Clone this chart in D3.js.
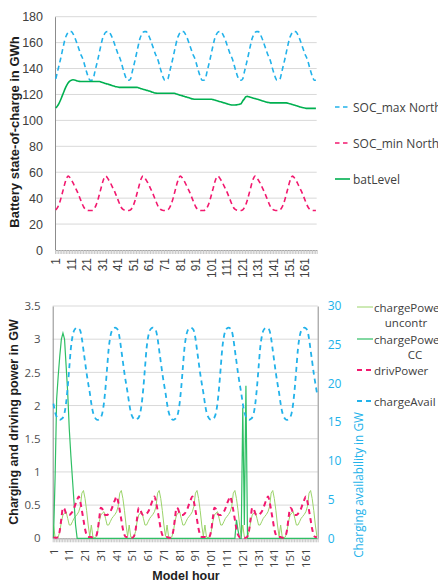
<!DOCTYPE html>
<html>
<head>
<meta charset="utf-8">
<script src="https://cdn.jsdelivr.net/npm/d3@7"></script>
<style>
  body { margin: 0; background: #fff; }
  svg { display: block; }
</style>
</head>
<body>
<svg id="chart" width="438" height="582"></svg>
<script>
// Model hours (one week) and tick labels
const hours = d3.range(1, 169);
const hourLabels = [1, 11, 21, 31, 41, 51, 61, 71, 81, 91, 101, 111, 121, 131, 141, 151, 161];
const socTicks = [0, 20, 40, 60, 80, 100, 120, 140, 160, 180];
const powerTicks = [0, 0.5, 1, 1.5, 2, 2.5, 3, 3.5];
const availTicks = [0, 5, 10, 15, 20, 25, 30];

// Battery state-of-charge in GWh (one row per day)
const socMax = [
  132,137,142,147,152.5,158,163,166,168,168.5,168.5,167,164.5,161.5,158,154.5,151,148.5,145,140.5,136.5,133,131,131,
  132,137,142,147,152.5,158,163,166,168,168.5,168.5,167,164.5,161.5,158,154.5,151,148.5,145,140.5,136.5,133,131,131,
  132,137,142,147,152.5,158,163,166,168,168.5,168.5,167,164.5,161.5,158,154.5,151,148.5,145,140.5,136.5,133,131,131,
  132,137,142,147,152.5,158,163,166,168,168.5,168.5,167,164.5,161.5,158,154.5,151,148.5,145,140.5,136.5,133,131,131,
  132,137,142,147,152.5,158,163,166,168,168.5,168.5,167,164.5,161.5,158,154.5,151,148.5,145,140.5,136.5,133,131,131,
  132,137,142,147,152.5,158,163,166,168,168.5,168.5,167,164.5,161.5,158,154.5,151,148.5,145,140.5,136.5,133,131,131,
  132,137,142,147,152.5,158,163,166,168,168.5,168.5,167,164.5,161.5,158,154.5,151,148.5,145,140.5,136.5,133,131,131
];
const socMin = [
  31,32.5,35,38.5,43,47.5,52,55.5,57,56,54,52,49.5,47,44.5,41.5,38.5,35.5,33,31.5,30.8,30.5,30.5,30.5,
  31,32.5,35,38.5,43,47.5,52,55.5,57,56,54,52,49.5,47,44.5,41.5,38.5,35.5,33,31.5,30.8,30.5,30.5,30.5,
  31,32.5,35,38.5,43,47.5,52,55.5,57,56,54,52,49.5,47,44.5,41.5,38.5,35.5,33,31.5,30.8,30.5,30.5,30.5,
  31,32.5,35,38.5,43,47.5,52,55.5,57,56,54,52,49.5,47,44.5,41.5,38.5,35.5,33,31.5,30.8,30.5,30.5,30.5,
  31,32.5,35,38.5,43,47.5,52,55.5,57,56,54,52,49.5,47,44.5,41.5,38.5,35.5,33,31.5,30.8,30.5,30.5,30.5,
  31,32.5,35,38.5,43,47.5,52,55.5,57,56,54,52,49.5,47,44.5,41.5,38.5,35.5,33,31.5,30.8,30.5,30.5,30.5,
  31,32.5,35,38.5,43,47.5,52,55.5,57,56,54,52,49.5,47,44.5,41.5,38.5,35.5,33,31.5,30.8,30.5,30.5,30.5
];
const batLevel = [
  109.5,111,113,115.5,118.5,121.5,124.5,127,129,130.3,131,131.3,131.2,130.8,130.4,130.1,130,130,130,130,130,130,130,130,
  130,130,130,130,130,129.6,129.2,128.8,128.4,128.1,127.8,127.4,127,126.6,126.2,125.9,125.7,125.5,125.5,125.5,125.5,125.5,125.5,125.5,
  125.5,125.5,125.5,125.5,125.5,125.2,124.8,124.4,124.1,123.7,123.3,123,122.6,122.2,121.8,121.4,121.1,120.9,120.9,120.9,120.9,120.9,120.9,120.9,
  120.9,120.9,120.9,120.9,120.9,120.6,120.2,119.8,119.4,119.1,118.7,118.3,118,117.6,117.2,116.8,116.5,116.3,116.3,116.3,116.3,116.3,116.3,116.3,
  116.3,116.3,116.3,116.3,116.3,116,115.7,115.3,115,114.6,114.3,113.9,113.5,113.2,112.8,112.4,112.1,111.9,111.9,111.9,112,112.2,112.5,113,
  115,116.5,118.3,118.5,118.2,117.8,117.5,117.1,116.8,116.5,116.1,115.7,115.3,114.9,114.6,114.2,113.9,113.7,113.5,113.5,113.5,113.5,113.5,113.5,
  113.5,113.5,113.5,113.5,113.5,113.2,112.9,112.6,112.2,111.8,111.5,111.1,110.7,110.3,110,109.7,109.5,109.3,109.3,109.3,109.3,109.3,109.3,109.3
];

// Charging and driving power in GW
const chargePowerUncontr = [
  0.2,0.02,0.01,0.02,0.1,0.25,0.35,0.38,0.4,0.3,0.2,0.2,0.25,0.3,0.33,0.36,0.4,0.48,0.68,0.72,0.6,0.42,0.2,0.03,
  0.2,0.02,0.01,0.02,0.1,0.25,0.35,0.38,0.4,0.3,0.2,0.2,0.25,0.3,0.33,0.36,0.4,0.48,0.68,0.72,0.6,0.42,0.2,0.03,
  0.2,0.02,0.01,0.02,0.1,0.25,0.35,0.38,0.4,0.3,0.2,0.2,0.25,0.3,0.33,0.36,0.4,0.48,0.68,0.72,0.6,0.42,0.2,0.03,
  0.2,0.02,0.01,0.02,0.1,0.25,0.35,0.38,0.4,0.3,0.2,0.2,0.25,0.3,0.33,0.36,0.4,0.48,0.68,0.72,0.6,0.42,0.2,0.03,
  0.2,0.02,0.01,0.02,0.1,0.25,0.35,0.38,0.4,0.3,0.2,0.2,0.25,0.3,0.33,0.36,0.4,0.48,0.68,0.72,0.6,0.42,0.2,0.03,
  0.2,0.02,0.01,0.02,0.1,0.25,0.35,0.38,0.4,0.3,0.2,0.2,0.25,0.3,0.33,0.36,0.4,0.48,0.68,0.72,0.6,0.42,0.2,0.03,
  0.2,0.02,0.01,0.02,0.1,0.25,0.35,0.38,0.4,0.3,0.2,0.2,0.25,0.3,0.33,0.36,0.4,0.48,0.68,0.72,0.6,0.42,0.2,0.03
];
const chargePowerCC = [
  0,0.9,2.1,2.45,2.75,3.0,3.09,3.0,2.6,2.2,1.65,1.25,0.9,0.55,0.2,0,0,0,0,0,0,0,0,0,
  0,0,0,0,0,0,0,0,0,0,0,0,0,0,0,0,0,0,0,0,0,0,0,0,
  0,0,0,0,0,0,0,0,0,0,0,0,0,0,0,0,0,0,0,0,0,0,0,0,
  0,0,0,0,0,0,0,0,0,0,0,0,0,0,0,0,0,0,0,0,0,0,0,0,
  0,0,0,0,0,0,0,0,0,0,0,0,0,0,0,0,0,0,0,0,0.28,0.12,0,0,
  1.97,0.2,2.3,0,0,0,0,0,0,0,0,0,0,0,0,0,0,0,0,0,0,0,0,0,
  0,0,0,0,0,0,0,0,0,0,0,0,0,0,0,0,0,0,0,0,0,0,0,0
];
const drivPower = [
  0.02,0.01,0.01,0.03,0.12,0.3,0.46,0.44,0.37,0.35,0.35,0.37,0.4,0.45,0.52,0.58,0.63,0.55,0.42,0.28,0.14,0.05,0.02,0.02,
  0.02,0.01,0.01,0.03,0.12,0.3,0.46,0.44,0.37,0.35,0.35,0.37,0.4,0.45,0.52,0.58,0.63,0.55,0.42,0.28,0.14,0.05,0.02,0.02,
  0.02,0.01,0.01,0.03,0.12,0.3,0.46,0.44,0.37,0.35,0.35,0.37,0.4,0.45,0.52,0.58,0.63,0.55,0.42,0.28,0.14,0.05,0.02,0.02,
  0.02,0.01,0.01,0.03,0.12,0.3,0.46,0.44,0.37,0.35,0.35,0.37,0.4,0.45,0.52,0.58,0.63,0.55,0.42,0.28,0.14,0.05,0.02,0.02,
  0.02,0.01,0.01,0.03,0.12,0.3,0.46,0.44,0.37,0.35,0.35,0.37,0.4,0.45,0.52,0.58,0.63,0.55,0.42,0.28,0.14,0.05,0.02,0.02,
  0.02,0.01,0.01,0.03,0.12,0.3,0.46,0.44,0.37,0.35,0.35,0.37,0.4,0.45,0.52,0.58,0.63,0.55,0.42,0.28,0.14,0.05,0.02,0.02,
  0.02,0.01,0.01,0.03,0.12,0.3,0.46,0.44,0.37,0.35,0.35,0.37,0.4,0.45,0.52,0.58,0.63,0.55,0.42,0.28,0.14,0.05,0.02,0.02
];
// Charging availability in GW (right axis)
const chargeAvail = [
  17.4,16.3,15.7,15.4,15.3,15.4,15.6,16.2,17.5,19.5,22,24.5,26,26.8,27.1,27.2,27.1,26.8,25.8,24.3,22.8,21.3,20,18.8,
  17.4,16.3,15.7,15.4,15.3,15.4,15.6,16.2,17.5,19.5,22,24.5,26,26.8,27.1,27.2,27.1,26.8,25.8,24.3,22.8,21.3,20,18.8,
  17.4,16.3,15.7,15.4,15.3,15.4,15.6,16.2,17.5,19.5,22,24.5,26,26.8,27.1,27.2,27.1,26.8,25.8,24.3,22.8,21.3,20,18.8,
  17.4,16.3,15.7,15.4,15.3,15.4,15.6,16.2,17.5,19.5,22,24.5,26,26.8,27.1,27.2,27.1,26.8,25.8,24.3,22.8,21.3,20,18.8,
  17.4,16.3,15.7,15.4,15.3,15.4,15.6,16.2,17.5,19.5,22,24.5,26,26.8,27.1,27.2,27.1,26.8,25.8,24.3,22.8,21.3,20,18.8,
  17.4,16.3,15.7,15.4,15.3,15.4,15.6,16.2,17.5,19.5,22,24.5,26,26.8,27.1,27.2,27.1,26.8,25.8,24.3,22.8,21.3,20,18.8,
  17.4,16.3,15.7,15.4,15.3,15.4,15.6,16.2,17.5,19.5,22,24.5,26,26.8,27.1,27.2,27.1,26.8,25.8,24.3,22.8,21.3,20,18.8
];

// Colours
const blue = '#22b2ea';
const pink = '#f2196f';
const green = '#00b050';
const ccGreen = '#2fbf64';
const lightGreen = '#9bd46a';
const gridColor = '#d9d9d9';
const axisColor = '#8c8c8c';
const textColor = '#404040';

const svg = d3.select('#chart');

// Draws a category hour axis: small tick per hour + rotated labels
function drawHourAxis(g, x, y0, labelGap, font, size) {
  const edges = d3.scaleLinear().domain([0, hours.length]).range(x.range());
  g.append('g')
    .attr('transform', `translate(0,${y0})`)
    .call(d3.axisBottom(edges).tickValues(d3.range(0, hours.length + 1)).tickFormat('').tickSize(4).tickSizeOuter(0))
    .call(a => a.select('.domain').attr('stroke', axisColor))
    .call(a => a.selectAll('.tick line').attr('stroke', '#c8c8c8'));

  g.append('g')
    .attr('transform', `translate(0,${y0})`)
    .call(d3.axisBottom(x).tickValues(hourLabels).tickSize(0))
    .call(a => a.select('.domain').remove())
    .call(a => a.selectAll('text')
      .attr('transform', 'rotate(-90)')
      .attr('text-anchor', 'end')
      .attr('x', -labelGap).attr('y', 0).attr('dy', '0.35em')
      .attr('font-family', font).attr('font-size', size).attr('fill', textColor));
}

function lineFor(x, y, curve) {
  return d3.line()
    .x((d, i) => x(hours[i]) + x.bandwidth() / 2)
    .y(d => y(d))
    .curve(curve);
}

// ---------- Top chart: battery state-of-charge ----------
const topChart = svg.append('g');
const xSoc = d3.scaleBand().domain(hours).range([55, 316.7]);
const ySoc = d3.scaleLinear().domain([0, 180]).range([250, 16.7]);

topChart.append('g').selectAll('line')
  .data(socTicks.filter(t => t > 0))
  .join('line')
  .attr('x1', 55).attr('x2', 316.7)
  .attr('y1', d => ySoc(d)).attr('y2', d => ySoc(d))
  .attr('stroke', gridColor);

topChart.append('g')
  .attr('transform', 'translate(55,0)')
  .call(d3.axisLeft(ySoc).tickValues(socTicks).tickSize(0).tickSizeOuter(0).tickPadding(12))
  .call(a => a.select('.domain').attr('stroke', axisColor))
  .call(a => a.selectAll('text').attr('font-family', 'Liberation Sans, Arial, sans-serif').attr('font-size', 12.5).attr('fill', textColor));

drawHourAxis(topChart, xSoc, 250, 8, 'Liberation Sans, Arial, sans-serif', 12);

topChart.append('path').datum(socMax)
  .attr('d', lineFor(xSoc, ySoc, d3.curveMonotoneX))
  .attr('fill', 'none').attr('stroke', blue).attr('stroke-width', 1.6).attr('stroke-dasharray', '5,3.5');
topChart.append('path').datum(socMin)
  .attr('d', lineFor(xSoc, ySoc, d3.curveMonotoneX))
  .attr('fill', 'none').attr('stroke', pink).attr('stroke-width', 1.6).attr('stroke-dasharray', '5,3.5');
topChart.append('path').datum(batLevel)
  .attr('d', lineFor(xSoc, ySoc, d3.curveMonotoneX))
  .attr('fill', 'none').attr('stroke', green).attr('stroke-width', 1.6);

topChart.append('text')
  .attr('transform', 'translate(14,132) rotate(-90)')
  .attr('text-anchor', 'middle').attr('dominant-baseline', 'central')
  .attr('font-family', 'Liberation Sans, Arial, sans-serif').attr('font-weight', 'bold').attr('font-size', 13)
  .attr('fill', '#1e1e1e')
  .text('Battery state-of-charge in GWh');

// Legend (top)
const topLegend = [
  { name: 'SOC_max North', color: blue, dash: '4.5,3.5', y: 107 },
  { name: 'SOC_min North', color: pink, dash: '4.5,3.5', y: 143 },
  { name: 'batLevel', color: green, dash: null, y: 179 }
];
const tl = topChart.append('g').selectAll('g').data(topLegend).join('g');
tl.append('line')
  .attr('x1', 335).attr('x2', 350).attr('y1', d => d.y).attr('y2', d => d.y)
  .attr('stroke', d => d.color).attr('stroke-width', 1.6)
  .attr('stroke-dasharray', d => d.dash);
tl.append('text')
  .attr('x', 353).attr('y', d => d.y).attr('dominant-baseline', 'central')
  .attr('font-family', 'Open Sans, sans-serif').attr('font-size', 12).attr('fill', textColor)
  .text(d => d.name);

// ---------- Bottom chart: charging and driving power ----------
const bottomChart = svg.append('g');
const xPow = d3.scaleBand().domain(hours).range([52.7, 317.7]);
const yPow = d3.scaleLinear().domain([0, 3.5]).range([538.3, 306]);
const yAvail = d3.scaleLinear().domain([0, 30]).range([538.3, 306]);

bottomChart.append('g').selectAll('line')
  .data(powerTicks.filter(t => t > 0))
  .join('line')
  .attr('x1', 52.7).attr('x2', 317.7)
  .attr('y1', d => yPow(d)).attr('y2', d => yPow(d))
  .attr('stroke', gridColor);

bottomChart.append('g')
  .attr('transform', 'translate(52.7,0)')
  .call(d3.axisLeft(yPow).tickValues(powerTicks).tickFormat(d3.format('~g')).tickSize(0).tickSizeOuter(0).tickPadding(12))
  .call(a => a.select('.domain').attr('stroke', axisColor))
  .call(a => a.selectAll('text').attr('font-family', 'Open Sans, sans-serif').attr('font-size', 11.5).attr('fill', '#505050'));

bottomChart.append('g')
  .attr('transform', 'translate(317.7,0)')
  .call(d3.axisRight(yAvail).tickValues(availTicks).tickSize(0).tickSizeOuter(0).tickPadding(10))
  .call(a => a.select('.domain').attr('stroke', axisColor))
  .call(a => a.selectAll('text').attr('font-family', 'Open Sans, sans-serif').attr('font-size', 12).attr('fill', blue));

drawHourAxis(bottomChart, xPow, 538.3, 10, 'Open Sans, sans-serif', 11.5);

bottomChart.append('path').datum(chargePowerUncontr)
  .attr('d', lineFor(xPow, yPow, d3.curveLinear))
  .attr('fill', 'none').attr('stroke', lightGreen).attr('stroke-width', 1);
bottomChart.append('path').datum(chargePowerCC)
  .attr('d', lineFor(xPow, yPow, d3.curveLinear))
  .attr('fill', 'none').attr('stroke', ccGreen).attr('stroke-width', 1.2);
bottomChart.append('path').datum(drivPower)
  .attr('d', lineFor(xPow, yPow, d3.curveMonotoneX))
  .attr('fill', 'none').attr('stroke', pink).attr('stroke-width', 2).attr('stroke-dasharray', '5,4');
bottomChart.append('path').datum(chargeAvail)
  .attr('d', lineFor(xPow, yAvail, d3.curveMonotoneX))
  .attr('fill', 'none').attr('stroke', blue).attr('stroke-width', 1.8).attr('stroke-dasharray', '5,4');

bottomChart.append('text')
  .attr('transform', 'translate(14,422) rotate(-90)')
  .attr('text-anchor', 'middle').attr('dominant-baseline', 'central')
  .attr('font-family', 'Liberation Sans, Arial, sans-serif').attr('font-weight', 'bold').attr('font-size', 12.5)
  .attr('fill', '#1e1e1e')
  .text('Charging and driving power in GW');

bottomChart.append('text')
  .attr('transform', 'translate(358,485) rotate(-90)')
  .attr('text-anchor', 'middle').attr('dominant-baseline', 'central')
  .attr('font-family', 'Open Sans, sans-serif').attr('font-size', 11.8)
  .attr('fill', blue)
  .text('Charging availability in GW');

bottomChart.append('text')
  .attr('x', 186).attr('y', 580)
  .attr('text-anchor', 'middle')
  .attr('font-family', 'Liberation Sans, Arial, sans-serif').attr('font-weight', 'bold').attr('font-size', 12.5)
  .attr('fill', '#1e1e1e')
  .text('Model hour');

// Legend (bottom) - long names wrap onto a second, centred line
const bottomLegend = [
  { lines: ['chargePower', 'uncontr'], second: 406, color: lightGreen, width: 1, dash: null, y: 307 },
  { lines: ['chargePower', 'CC'], second: 415, color: ccGreen, width: 1.2, dash: null, y: 339 },
  { lines: ['drivPower'], color: pink, width: 2, dash: '5,4', y: 370 },
  { lines: ['chargeAvail'], color: blue, width: 1.8, dash: '5,4', y: 401 }
];
const bl = bottomChart.append('g').selectAll('g').data(bottomLegend).join('g');
bl.append('line')
  .attr('x1', 357).attr('x2', 373).attr('y1', d => d.y).attr('y2', d => d.y)
  .attr('stroke', d => d.color).attr('stroke-width', d => d.width)
  .attr('stroke-dasharray', d => d.dash);
bl.append('text')
  .attr('x', 374).attr('y', d => d.y).attr('dominant-baseline', 'central')
  .attr('font-family', 'Open Sans, sans-serif').attr('font-size', 11.5).attr('fill', textColor)
  .text(d => d.lines[0]);
bl.filter(d => d.lines.length > 1).append('text')
  .attr('x', d => d.second).attr('y', d => d.y + 15).attr('dominant-baseline', 'central')
  .attr('text-anchor', 'middle')
  .attr('font-family', 'Open Sans, sans-serif').attr('font-size', 11.5).attr('fill', textColor)
  .text(d => d.lines[1]);
</script>
</body>
</html>
